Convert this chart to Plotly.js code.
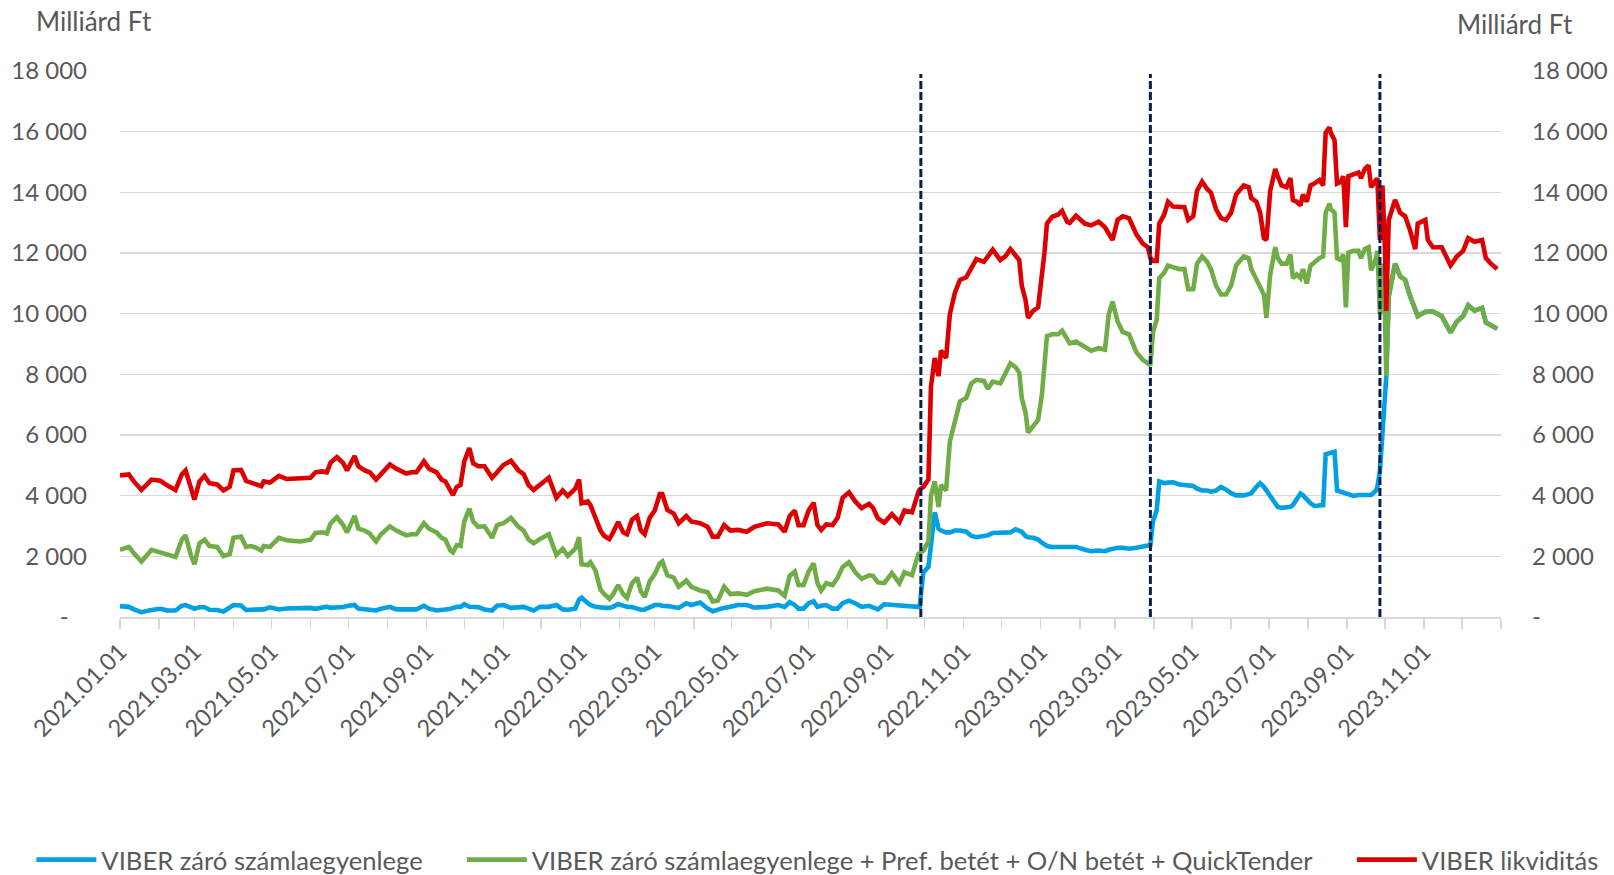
<!DOCTYPE html>
<html>
<head>
<meta charset="utf-8">
<script src="https://cdn.plot.ly/plotly-3.0.1.min.js"></script>
<style>html,body{margin:0;padding:0;background:#fff;}#chart{width:1614px;height:875px;}</style>
</head>
<body>
<div id="chart"></div>
<script>
const dates = [
'2021-01-01','2021-01-08','2021-01-12','2021-01-18','2021-01-26','2021-02-02','2021-02-07','2021-02-14','2021-02-19','2021-02-22','2021-02-26',
'2021-03-01','2021-03-05','2021-03-09','2021-03-13','2021-03-19','2021-03-24','2021-03-29','2021-04-01','2021-04-07','2021-04-11','2021-04-15',
'2021-04-19','2021-04-23','2021-04-25','2021-04-30','2021-05-07','2021-05-13','2021-05-24','2021-06-01','2021-06-05','2021-06-10','2021-06-14',
'2021-06-17','2021-06-22','2021-06-27','2021-06-30','2021-07-06','2021-07-09','2021-07-14','2021-07-18','2021-07-23','2021-07-27','2021-08-03',
'2021-08-08','2021-08-16','2021-08-20','2021-08-24','2021-08-30','2021-09-03','2021-09-09','2021-09-13','2021-09-16','2021-09-20','2021-09-22',
'2021-09-25','2021-09-28','2021-10-01','2021-10-05','2021-10-08','2021-10-12','2021-10-17','2021-10-23','2021-10-27','2021-11-01','2021-11-07',
'2021-11-13','2021-11-17','2021-11-21','2021-11-25','2021-11-30','2021-12-07','2021-12-13','2021-12-18','2021-12-22','2021-12-28','2021-12-31',
'2022-01-02','2022-01-07','2022-01-09','2022-01-13','2022-01-17','2022-01-20','2022-01-24','2022-01-27','2022-01-31','2022-02-04','2022-02-07',
'2022-02-11','2022-02-15','2022-02-18','2022-02-21','2022-02-25','2022-03-01','2022-03-05','2022-03-07','2022-03-11','2022-03-16','2022-03-20',
'2022-03-26','2022-03-30','2022-04-06','2022-04-12','2022-04-16','2022-04-20','2022-04-25','2022-04-30','2022-05-06','2022-05-13','2022-05-19',
'2022-05-29','2022-06-07','2022-06-12','2022-06-16','2022-06-20','2022-06-23','2022-06-27','2022-07-01','2022-07-05','2022-07-08','2022-07-11',
'2022-07-15','2022-07-20','2022-07-24','2022-07-28','2022-08-02','2022-08-07','2022-08-12','2022-08-18','2022-08-21','2022-08-25','2022-08-30',
'2022-09-05','2022-09-11','2022-09-15','2022-09-21','2022-09-26','2022-09-27','2022-09-30','2022-10-04','2022-10-06','2022-10-09','2022-10-12',
'2022-10-14','2022-10-18','2022-10-21','2022-10-25','2022-10-29','2022-11-03','2022-11-07','2022-11-11','2022-11-17','2022-11-20','2022-11-24',
'2022-11-30','2022-12-04','2022-12-08','2022-12-12','2022-12-15','2022-12-17','2022-12-20','2022-12-22','2022-12-26','2022-12-30','2023-01-02',
'2023-01-04','2023-01-06','2023-01-10','2023-01-15','2023-01-18','2023-01-22','2023-01-24','2023-01-29','2023-02-05','2023-02-10','2023-02-16',
'2023-02-21','2023-02-24','2023-02-27','2023-03-03','2023-03-07','2023-03-12','2023-03-18','2023-03-23','2023-03-27','2023-03-29','2023-03-31',
'2023-04-03','2023-04-05','2023-04-09','2023-04-12','2023-04-16','2023-04-21','2023-04-25','2023-04-28','2023-05-02','2023-05-05','2023-05-09',
'2023-05-13','2023-05-16','2023-05-20','2023-05-24','2023-05-28','2023-06-01','2023-06-05','2023-06-11','2023-06-15','2023-06-17','2023-06-21',
'2023-06-24','2023-06-27','2023-06-29','2023-07-02','2023-07-06','2023-07-08','2023-07-11','2023-07-15','2023-07-18','2023-07-20','2023-07-23',
'2023-07-26','2023-07-28','2023-07-31','2023-08-03','2023-08-06','2023-08-10','2023-08-13','2023-08-15','2023-08-18','2023-08-19','2023-08-22',
'2023-08-24','2023-08-27','2023-08-29','2023-08-31','2023-09-02','2023-09-06','2023-09-10','2023-09-12','2023-09-15','2023-09-18','2023-09-20',
'2023-09-24','2023-09-25','2023-09-27','2023-09-29','2023-10-01','2023-10-02','2023-10-04','2023-10-09','2023-10-13','2023-10-17','2023-10-21',
'2023-10-25','2023-10-27','2023-11-02','2023-11-04','2023-11-08','2023-11-15','2023-11-19','2023-11-22','2023-11-27','2023-12-02','2023-12-06',
'2023-12-11','2023-12-17','2023-12-20','2023-12-24','2023-12-29'
];

// VIBER likviditás (red)
const likviditas = [
4670,4700,4470,4190,4530,4490,4350,4190,4700,4830,4290,
3870,4470,4650,4410,4370,4170,4290,4830,4850,4490,4410,
4370,4310,4470,4430,4650,4550,4560,4590,4770,4800,4770,
5090,5270,5070,4830,5305,4970,4830,4770,4530,4710,5030,
4890,4730,4770,4770,5130,4890,4770,4530,4470,4110,4020,
4290,4350,5130,5570,5070,4970,4970,4590,4770,5010,5150,
4830,4710,4350,4190,4370,4590,3930,4170,3990,4230,4530,
3750,3810,3690,3270,2850,2670,2570,2790,3130,2790,2730,
3210,3330,2850,2730,3270,3510,4050,4050,3530,3410,3090,
3330,3150,3090,2970,2650,2650,3030,2850,2870,2810,2970,
3090,3050,2810,3330,3510,3030,3030,3510,3770,3030,2870,
3050,3030,3270,3930,4110,3810,3590,3730,3600,3250,3110,
3390,3130,3510,3450,4110,4200,4290,4530,7580,8540,7940,
8780,8540,9980,10690,11110,11200,11530,11800,11710,11890,12110,
11770,11890,12130,11890,11770,10930,10450,9860,10090,10210,11170,
12010,12970,13190,13270,13390,13030,12990,13230,12970,12910,13030,
12850,12610,12430,13090,13210,13150,12610,12310,12190,11830,11740,
11740,12970,13270,13690,13530,13510,13510,13090,13210,14050,14350,
14110,13990,13450,13150,13090,13330,13930,14230,14170,13810,13690,
13330,12490,12430,14050,14770,14530,14230,14170,14470,13750,13690,
13570,13930,13690,14230,14290,14410,14230,15960,16140,15960,15720,
14290,14350,14530,12850,14530,14590,14650,14470,14770,14890,14170,
14410,14410,12430,14230,12130,10090,13090,13750,13330,13210,12730,
12130,12970,13090,12430,12190,12190,11890,11590,11890,12070,12490,
12370,12430,11830,11650,11470
];

// VIBER záró számlaegyenlege + Pref. betét + O/N betét + QuickTender (green)
const viberPlus = [
2215,2310,2100,1830,2215,2130,2100,1980,2550,2690,2070,
1740,2430,2550,2340,2310,2010,2070,2610,2650,2310,2340,
2280,2190,2340,2310,2610,2530,2490,2550,2770,2790,2750,
3090,3290,3030,2790,3330,2910,2850,2750,2490,2730,2990,
2850,2690,2730,2730,3090,2910,2790,2610,2550,2190,2130,
2370,2340,3150,3570,3150,2970,2990,2610,3030,3090,3270,
2970,2850,2550,2430,2570,2730,2050,2250,2010,2250,2630,
1740,1710,1800,1530,900,755,600,755,1055,755,635,
1115,1295,840,660,1175,1415,1770,1830,1375,1295,995,
1200,995,875,815,515,540,995,755,780,730,850,
935,875,695,1355,1495,1055,1055,1495,1770,1115,875,
1115,1055,1295,1650,1800,1475,1260,1375,1355,1140,1115,
1450,1115,1475,1375,2070,2100,2190,2490,3990,4470,3630,
4350,4170,5785,6380,7100,7220,7700,7820,7785,7520,7760,
7700,8060,8360,8240,8060,7220,6740,6080,6320,6500,7340,
8420,9260,9320,9320,9440,9140,9020,9080,8900,8780,8860,
8810,9980,10400,9740,9400,9320,8720,8480,8360,8300,9380,
9800,11170,11350,11590,11530,11470,11470,10810,10810,11650,11890,
11710,11470,10930,10630,10630,10930,11590,11890,11830,11470,11110,
10810,10630,9860,11290,12190,11830,11650,11650,11950,11170,11290,
11170,11470,10990,11590,11710,11830,11890,13330,13630,13450,13330,
11830,11770,11950,10210,12010,12070,12070,11830,12130,12190,11430,
11830,12070,9980,11650,9980,7940,10570,11650,11230,11110,10570,
10150,9920,10060,10070,10070,9920,9620,9380,9740,9920,10280,
10100,10190,9710,9620,9500
];

// VIBER záró számlaegyenlege (blue)
const viber = [
360,335,250,160,230,270,220,215,370,395,330,
270,320,320,240,230,180,330,395,380,230,240,
250,250,250,320,250,280,310,300,270,300,340,
300,300,330,360,395,275,240,215,215,275,335,
250,240,240,250,370,275,215,215,250,275,300,
335,335,420,335,325,325,250,215,370,395,300,
335,335,275,215,335,335,395,250,240,275,575,
635,455,395,335,300,300,300,335,430,360,335,
325,275,240,250,335,395,395,370,360,335,300,
455,395,480,275,190,250,300,335,395,395,310,
335,395,335,490,395,275,275,455,515,335,370,
395,275,275,455,540,455,335,370,335,250,420,
395,360,360,335,335,335,1475,1650,2430,3450,2910,
2850,2790,2790,2850,2850,2810,2670,2630,2670,2690,2770,
2770,2770,2790,2890,2850,2810,2670,2630,2610,2550,2450,
2370,2340,2310,2310,2310,2290,2280,2310,2215,2170,2190,
2170,2215,2250,2280,2280,2250,2280,2310,2340,2370,3150,
3510,4470,4410,4430,4440,4370,4350,4350,4320,4230,4170,
4170,4130,4170,4290,4200,4080,4010,4010,4050,4080,4290,
4410,4290,4170,3990,3750,3630,3600,3630,3630,3690,3870,
4070,4010,3870,3750,3660,3690,3690,5365,5390,5425,5450,
4170,4130,4110,4080,4050,3990,4020,4020,4010,4010,4020,
4170,4290,4830,6140,7220,7880,10570,11650,11230,11110,10570,
10150,9920,10060,10070,10070,9920,9620,9380,9740,9920,10280,
10100,10190,9710,9620,9500
];

const seriesNames = [
  'VIBER záró számlaegyenlege',
  'VIBER záró számlaegyenlege + Pref. betét + O/N betét + QuickTender',
  'VIBER likviditás'
];
const eventDates = ['2022-09-28', '2023-03-29', '2023-09-27'];
const eventTop = 17900;
const xTickDates = ['2021-01-01','2021-03-01','2021-05-01','2021-07-01','2021-09-01','2021-11-01',
  '2022-01-01','2022-03-01','2022-05-01','2022-07-01','2022-09-01','2022-11-01',
  '2023-01-01','2023-03-01','2023-05-01','2023-07-01','2023-09-01','2023-11-01'];
const yTickVals = [0,2000,4000,6000,8000,10000,12000,14000,16000,18000];
const yTickText = ['-\u00A0\u00A0\u00A0','2 000','4 000','6 000','8 000','10 000','12 000','14 000','16 000','18 000'];
const unitLabel = 'Milliárd Ft';

const FONT = 'Lato, "Open Sans", sans-serif';
const TXT = '#595959';

const traces = [
  {x: dates, y: viber, name: seriesNames[0], type: 'scatter', mode: 'lines',
   line: {color: '#00A0E3', width: 4.6}, legend: 'legend'},
  {x: dates, y: viberPlus, name: seriesNames[1], type: 'scatter', mode: 'lines',
   line: {color: '#70AD47', width: 4.6}, legend: 'legend2'},
  {x: dates, y: likviditas, name: seriesNames[2], type: 'scatter', mode: 'lines',
   line: {color: '#DD0000', width: 4.6}, legend: 'legend3', yaxis: 'y2'}
];

const shapes = eventDates.map(d => ({
  type: 'line', xref: 'x', yref: 'y', x0: d, x1: d, y0: 0, y1: eventTop,
  line: {color: '#0B1F4F', width: 3, dash: '8px,3px'}, layer: 'above'
}));

const yCommon = {
  range: [0, 18000], tickmode: 'array', tickvals: yTickVals, ticktext: yTickText,
  zeroline: false, showline: false, ticks: '', automargin: false,
  tickfont: {family: FONT, size: 24, color: TXT}, fixedrange: true
};

const legendCommon = {
  orientation: 'h', yref: 'paper', y: -0.445, yanchor: 'middle', xanchor: 'left',
  bgcolor: 'rgba(0,0,0,0)', font: {family: FONT, size: 25.6, color: TXT}, itemwidth: 60
};

const layout = {
  width: 1614, height: 875,
  margin: {l: 120, r: 112.5, t: 71, b: 258, pad: 0, autoexpand: false},
  paper_bgcolor: '#ffffff', plot_bgcolor: '#ffffff',
  font: {family: FONT, size: 24, color: TXT},
  showlegend: true,
  xaxis: {
    type: 'date', range: ['2021-01-01', '2024-01-01'], automargin: false,
    tickmode: 'array', tickvals: xTickDates, tickformat: '%Y.%m.%d', tickangle: -45,
    ticks: 'outside', ticklen: 10, tickwidth: 1.5, tickcolor: '#D9D9D9', ticklabelstandoff: 0,
    showline: true, linecolor: '#D9D9D9', linewidth: 1.5, showgrid: false, zeroline: false,
    tickfont: {family: FONT, size: 23.5, color: TXT},
    minor: {dtick: 'M1', tick0: '2021-01-01', ticks: 'outside', ticklen: 10, tickwidth: 1.5, tickcolor: '#D9D9D9', showgrid: false}
  },
  yaxis: Object.assign({}, yCommon, {showgrid: true, gridcolor: '#D9D9D9', gridwidth: 1.5, side: 'left', ticklabelstandoff: 32}),
  yaxis2: Object.assign({}, yCommon, {overlaying: 'y', side: 'right', showgrid: false, ticklabelstandoff: 30}),
  legend: Object.assign({}, legendCommon, {x: -0.0642}),
  legend2: Object.assign({}, legendCommon, {x: 0.2475}),
  legend3: Object.assign({}, legendCommon, {x: 0.892}),
  shapes: shapes,
  annotations: [
    {text: unitLabel, xref: 'paper', yref: 'paper', x: -0.0625, y: 1.0, xanchor: 'left', yanchor: 'bottom',
     yshift: 32, showarrow: false, font: {family: FONT, size: 26, color: TXT}},
    {text: unitLabel, xref: 'paper', yref: 'paper', x: 1.0538, y: 1.0, xanchor: 'right', yanchor: 'bottom',
     yshift: 29, showarrow: false, font: {family: FONT, size: 26, color: TXT}}
  ]
};

Plotly.newPlot('chart', traces, layout, {displayModeBar: false, staticPlot: true});
</script>
</body>
</html>
